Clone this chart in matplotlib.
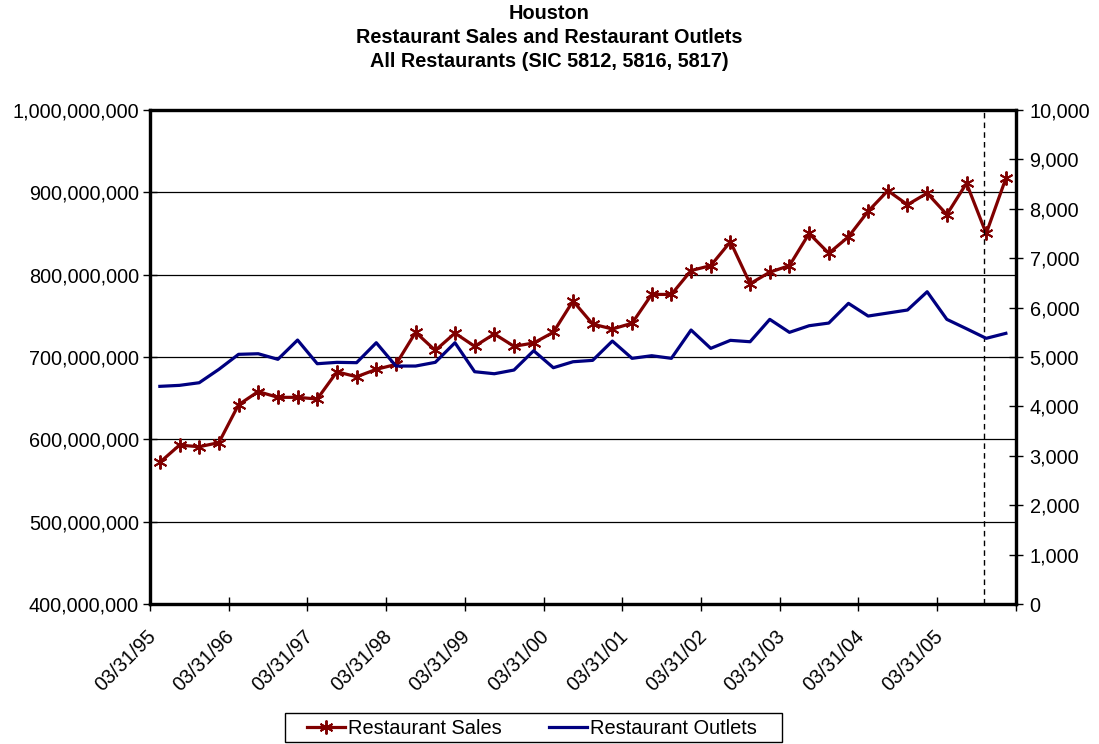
import numpy as np
import matplotlib
matplotlib.use('Agg')
import matplotlib.pyplot as plt
from matplotlib.patches import Rectangle
from matplotlib.transforms import ScaledTranslation
from matplotlib.ticker import FuncFormatter, MultipleLocator

plt.rcParams['font.family'] = ['Liberation Sans', 'DejaVu Sans']

# Quarterly data, Q1 1995 .. Q4 2005
sales = [572, 593, 591, 596, 642, 658, 651, 651, 649, 682, 676, 685,
         691, 730, 708, 729, 713, 728, 713, 717, 730, 768, 740, 734,
         741, 776, 776, 805, 811, 840, 789, 803, 811, 850, 826, 846,
         877, 902, 885, 899, 873, 911, 850, 917]
sales = [v * 1_000_000 for v in sales]

outlets = [4406, 4426, 4479, 4750, 5054, 5066, 4953, 5343, 4864, 4892, 4885, 5289,
           4817, 4817, 4892, 5289, 4702, 4661, 4736, 5127, 4783, 4904, 4932, 5323,
           4973, 5026, 4973, 5546, 5175, 5337, 5309, 5762, 5499, 5633, 5687, 6086,
           5829, 5890, 5951, 6321, 5762, 5572, 5378, 5479]

tick_labels = ['03/31/95', '03/31/96', '03/31/97', '03/31/98', '03/31/99', '03/31/00',
               '03/31/01', '03/31/02', '03/31/03', '03/31/04', '03/31/05', '']

forecast_start = 42.4  # dashed marker line, in quarter units

red = '#800000'
navy = '#000080'

fig = plt.figure(figsize=(10.99, 7.44), dpi=100)
ax = fig.add_axes([150 / 1099, 1 - 604 / 744, (1015.7 - 150) / 1099, 494 / 744])
ax2 = ax.twinx()

x = np.arange(len(sales)) + 0.5

l1, = ax.plot(x, sales, color=red, lw=2.3, marker=(6, 2, 0), markersize=10,
              markeredgewidth=1.4, markeredgecolor=red, label='Restaurant Sales')
l2, = ax2.plot(x, outlets, color=navy, lw=2.3, label='Restaurant Outlets')

ax.axvline(forecast_start, color='black', lw=1, ls=(0, (4, 3)))

ax.set_xlim(0, len(sales))
ax.set_ylim(400_000_000, 1_000_000_000)
ax2.set_ylim(0, 10000)

ax.set_xticks(np.arange(0, len(sales) + 1, 4))
ax.set_xticklabels(tick_labels, rotation=45, ha='right', rotation_mode='anchor')
ax.yaxis.set_major_locator(MultipleLocator(100_000_000))
ax2.yaxis.set_major_locator(MultipleLocator(1000))
ax.yaxis.set_major_formatter(FuncFormatter(lambda v, p: f'{v:,.0f}'))
ax2.yaxis.set_major_formatter(FuncFormatter(lambda v, p: f'{v:,.0f}'))

ax.grid(axis='y', color='black', lw=0.9)
ax.set_axisbelow(True)

for a in (ax, ax2):
    for s in a.spines.values():
        s.set_linewidth(2.3)
        s.set_color('black')
    a.tick_params(direction='inout', length=10, width=1, labelsize=14.3, colors='black')
ax.tick_params(axis='y', pad=3)
ax.tick_params(axis='x', pad=11)
ax2.tick_params(axis='y', pad=5)

shift = ScaledTranslation(-4 / 100, 0, fig.dpi_scale_trans)
for lab in ax.get_xticklabels():
    lab.set_transform(lab.get_transform() + shift)

fig.text(0.5, 1 - 4 / 744,
         'Houston\nRestaurant Sales and Restaurant Outlets\nAll Restaurants (SIC 5812, 5816, 5817)',
         ha='center', va='top', fontsize=14.3, fontweight='bold', linespacing=1.33)

leg = fig.legend(handles=[l1, l2], loc='center', bbox_to_anchor=(532 / 1099, 1 - 728 / 744),
                 ncol=2, fontsize=14.4, frameon=False,
                 handlelength=1.9, handletextpad=0.15, columnspacing=2.4, borderpad=0.2,
                 borderaxespad=0)
fig.patches.append(Rectangle((285 / 1099, 1 - 742 / 744), (782 - 285) / 1099, 29 / 744,
                             transform=fig.transFigure, fill=False, ec='black', lw=1))

fig.savefig('out.png', dpi=100)
